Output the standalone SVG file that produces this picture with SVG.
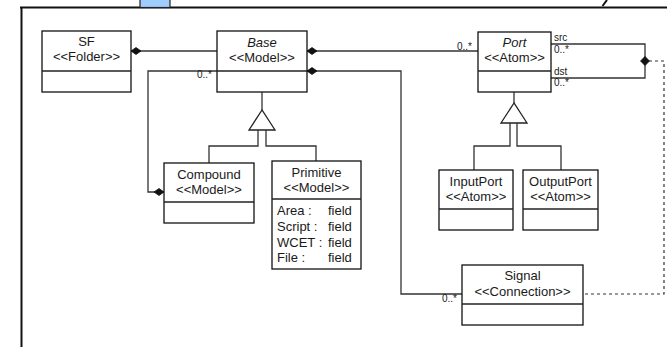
<svg xmlns="http://www.w3.org/2000/svg" width="667" height="347" viewBox="0 0 667 347">
  <style>
    .box { fill: #ffffff; stroke: #111111; stroke-width: 1.3; }
    .div { stroke: #222222; stroke-width: 1.3; fill: none; }
    .name { font-family: "Liberation Sans", Arial, sans-serif; font-size: 13px; fill: #1a1a1a; text-anchor: middle; }
    .abs { font-style: italic; }
    .fld { font-family: "Liberation Sans", Arial, sans-serif; font-size: 13px; fill: #1a1a1a; }
    .lbl { font-family: "Liberation Sans", Arial, sans-serif; font-size: 10px; fill: #1a1a1a; }
    .conn { fill: none; stroke: #333333; stroke-width: 1.3; }
    .dash { fill: none; stroke: #333333; stroke-width: 1.2; stroke-dasharray: 3 3; }
    .dia { fill: #111111; stroke: #111111; stroke-width: 0.8; }
    .tri { fill: #ffffff; stroke: #222222; stroke-width: 1.3; }
  </style>

  <rect x="0" y="0" width="667" height="347" fill="#ffffff"/>

  <!-- surrounding frame -->
  <g id="frame">
    <line x1="20" y1="7.5" x2="667" y2="7.5" stroke="#111111" stroke-width="1.8"/>
    <line x1="21.5" y1="7" x2="21.5" y2="347" stroke="#111111" stroke-width="2"/>
    <rect x="140" y="-2" width="30" height="9.5" fill="#9fcdfc" stroke="#222222" stroke-width="1.2"/>
    <line x1="607" y1="0" x2="602.5" y2="6" stroke="#111111" stroke-width="2"/>
  </g>

  <!-- connectors -->
  <g id="connectors">
    <!-- SF containment of Base -->
    <line class="conn" x1="131" y1="51" x2="217" y2="51"/>
    <polygon class="dia" points="131,51 136,47.5 141,51 136,54.5"/>

    <!-- Base containment of Port -->
    <line class="conn" x1="307" y1="51" x2="478" y2="51"/>
    <polygon class="dia" points="307,51 312,47.5 317,51 312,54.5"/>
    <text class="lbl" x="457" y="49.5">0..*</text>

    <!-- Compound containment of Base -->
    <polyline class="conn" points="217,71 148,71 148,192 164,192"/>
    <polygon class="dia" points="164,192 159,188.5 154,192 159,195.5"/>
    <text class="lbl" x="197" y="78">0..*</text>

    <!-- Base containment of Signal -->
    <polyline class="conn" points="307,71 401,71 401,294 462,294"/>
    <polygon class="dia" points="307,71 312,67.5 317,71 312,74.5"/>
    <text class="lbl" x="442" y="302">0..*</text>

    <!-- Port src / dst roles -->
    <polyline class="conn" points="551,44 645,44 645,78 551,78"/>
    <polygon class="dia" points="640.5,61 645,56.5 649.5,61 645,65.5"/>
    <text class="lbl" x="554" y="41">src</text>
    <text class="lbl" x="554" y="53">0..*</text>
    <text class="lbl" x="554" y="75">dst</text>
    <text class="lbl" x="554" y="86">0..*</text>

    <!-- association class link to Signal -->
    <polyline class="dash" points="649,61 664,61 664,294 583,294"/>

    <!-- Base generalization -->
    <line class="conn" x1="262" y1="92" x2="262" y2="110"/>
    <polygon class="tri" points="262,110 249,130 275,130"/>
    <polyline class="conn" points="258,130 258,146 209,146 209,163"/>
    <polyline class="conn" points="266,130 266,146 316,146 316,161"/>

    <!-- Port generalization -->
    <line class="conn" x1="514" y1="92" x2="514" y2="103"/>
    <polygon class="tri" points="514,103 501,123 527,123"/>
    <polyline class="conn" points="510,123 510,146 474,146 474,170"/>
    <polyline class="conn" points="517,123 517,146 561,146 561,170"/>
  </g>

  <!-- classes -->
  <g id="SF">
    <rect class="box" x="42" y="31" width="89" height="61"/>
    <line class="div" x1="42" y1="71" x2="131" y2="71"/>
    <text class="name" x="86.5" y="46">SF</text>
    <text class="name" x="86.5" y="61">&lt;&lt;Folder&gt;&gt;</text>
  </g>

  <g id="Base">
    <rect class="box" x="217" y="31" width="90" height="61"/>
    <line class="div" x1="217" y1="71" x2="307" y2="71"/>
    <text class="name abs" x="262" y="47">Base</text>
    <text class="name" x="262" y="62">&lt;&lt;Model&gt;&gt;</text>
  </g>

  <g id="Port">
    <rect class="box" x="478" y="32" width="73" height="60"/>
    <line class="div" x1="478" y1="71" x2="551" y2="71"/>
    <text class="name abs" x="514.5" y="47">Port</text>
    <text class="name" x="514.5" y="62">&lt;&lt;Atom&gt;&gt;</text>
  </g>

  <g id="Compound">
    <rect class="box" x="164" y="163" width="90" height="60"/>
    <line class="div" x1="164" y1="202" x2="254" y2="202"/>
    <text class="name" x="209" y="179">Compound</text>
    <text class="name" x="209" y="194">&lt;&lt;Model&gt;&gt;</text>
  </g>

  <g id="Primitive">
    <rect class="box" x="272" y="161" width="89" height="108"/>
    <line class="div" x1="272" y1="199" x2="361" y2="199"/>
    <text class="name" x="316.5" y="177">Primitive</text>
    <text class="name" x="316.5" y="192">&lt;&lt;Model&gt;&gt;</text>
    <text class="fld" x="277" y="215">Area :</text>
    <text class="fld" x="328" y="215">field</text>
    <text class="fld" x="277" y="231">Script :</text>
    <text class="fld" x="328" y="231">field</text>
    <text class="fld" x="277" y="246.5">WCET :</text>
    <text class="fld" x="328" y="246.5">field</text>
    <text class="fld" x="277" y="262">File :</text>
    <text class="fld" x="328" y="262">field</text>
  </g>

  <g id="InputPort">
    <rect class="box" x="439" y="170" width="74" height="60"/>
    <line class="div" x1="439" y1="209" x2="513" y2="209"/>
    <text class="name" x="476" y="186">InputPort</text>
    <text class="name" x="476" y="201">&lt;&lt;Atom&gt;&gt;</text>
  </g>

  <g id="OutputPort">
    <rect class="box" x="523" y="170" width="75" height="60"/>
    <line class="div" x1="523" y1="209" x2="598" y2="209"/>
    <text class="name" x="560.5" y="186">OutputPort</text>
    <text class="name" x="560.5" y="201">&lt;&lt;Atom&gt;&gt;</text>
  </g>

  <g id="Signal">
    <rect class="box" x="462" y="265" width="121" height="60"/>
    <line class="div" x1="462" y1="304" x2="583" y2="304"/>
    <text class="name" x="522.5" y="280">Signal</text>
    <text class="name" x="522.5" y="296">&lt;&lt;Connection&gt;&gt;</text>
  </g>
</svg>
